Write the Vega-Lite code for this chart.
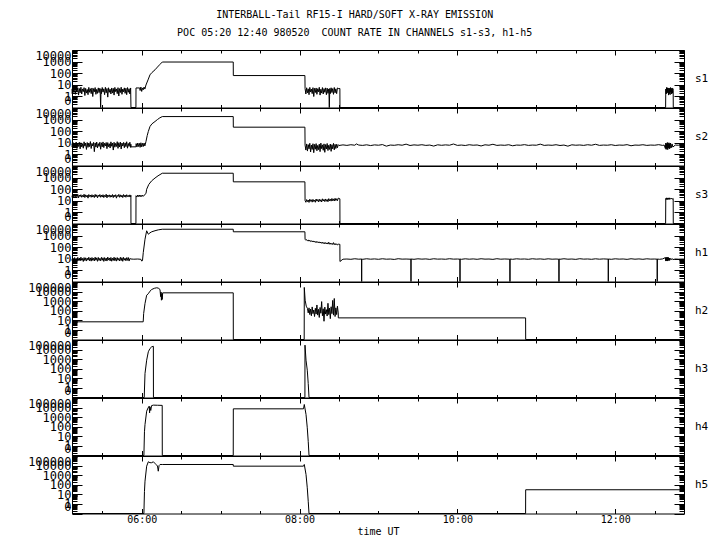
{
"$schema": "https://vega.github.io/schema/vega-lite/v6.json",
"background": "white",
"padding": {"left": 27, "top": 9, "right": 5, "bottom": 5},
"title": {"text": ["INTERBALL-Tail RF15-I HARD/SOFT X-RAY EMISSION", "POC 05:20 12:40 980520\u00a0 COUNT RATE IN CHANNELS s1-s3, h1-h5"], "font": "DejaVu Sans Mono", "fontSize": 10, "fontWeight": "normal", "lineHeight": 18, "anchor": "middle", "offset": 7, "dx": -13, "color": "black"},
"spacing": 0,
"bounds": "flush",
"datasets": {"d": [
{"c":"s1","t":5.117,"v":4.2},{"c":"s1","t":5.12,"v":1.6},{"c":"s1","t":5.13,"v":4.8},{"c":"s1","t":5.14,"v":2.0},{"c":"s1","t":5.15,"v":5.5},{"c":"s1","t":5.16,"v":1.4},{"c":"s1","t":5.17,"v":3.9},{"c":"s1","t":5.18,"v":2.2},{"c":"s1","t":5.19,"v":5.2},{"c":"s1","t":5.2,"v":1.2},{"c":"s1","t":5.21,"v":4.5},{"c":"s1","t":5.22,"v":1.9},{"c":"s1","t":5.23,"v":5.8},{"c":"s1","t":5.24,"v":1.5},{"c":"s1","t":5.25,"v":4.1},{"c":"s1","t":5.26,"v":2.4},{"c":"s1","t":5.27,"v":5.3},{"c":"s1","t":5.28,"v":1.1},{"c":"s1","t":5.29,"v":4.6},{"c":"s1","t":5.3,"v":1.8},{"c":"s1","t":5.31,"v":3.7},{"c":"s1","t":5.32,"v":1.3},{"c":"s1","t":5.33,"v":5.6},{"c":"s1","t":5.34,"v":2.1},{"c":"s1","t":5.35,"v":4.3},{"c":"s1","t":5.36,"v":1.6},{"c":"s1","t":5.37,"v":5.0},{"c":"s1","t":5.38,"v":0.9},{"c":"s1","t":5.39,"v":4.4},{"c":"s1","t":5.4,"v":2.3},{"c":"s1","t":5.41,"v":5.4},{"c":"s1","t":5.42,"v":1.4},{"c":"s1","t":5.43,"v":3.8},{"c":"s1","t":5.44,"v":1.7},{"c":"s1","t":5.45,"v":5.1},{"c":"s1","t":5.46,"v":2.0},{"c":"s1","t":5.47,"v":4.7},{"c":"s1","t":5.475,"v":1.5},{"c":"s1","t":5.48,"v":0.1},{"c":"s1","t":5.485,"v":4.0},{"c":"s1","t":5.49,"v":1.6},{"c":"s1","t":5.5,"v":5.5},{"c":"s1","t":5.51,"v":2.2},{"c":"s1","t":5.52,"v":4.2},{"c":"s1","t":5.53,"v":1.3},{"c":"s1","t":5.54,"v":5.7},{"c":"s1","t":5.55,"v":1.9},{"c":"s1","t":5.56,"v":4.5},{"c":"s1","t":5.57,"v":0.8},{"c":"s1","t":5.58,"v":5.2},{"c":"s1","t":5.59,"v":2.1},{"c":"s1","t":5.6,"v":3.9},{"c":"s1","t":5.61,"v":1.5},{"c":"s1","t":5.62,"v":5.0},{"c":"s1","t":5.63,"v":1.8},{"c":"s1","t":5.64,"v":4.6},{"c":"s1","t":5.65,"v":1.2},{"c":"s1","t":5.66,"v":5.6},{"c":"s1","t":5.67,"v":2.4},{"c":"s1","t":5.68,"v":4.1},{"c":"s1","t":5.69,"v":1.6},{"c":"s1","t":5.7,"v":5.3},{"c":"s1","t":5.71,"v":1.0},{"c":"s1","t":5.72,"v":4.4},{"c":"s1","t":5.73,"v":2.0},{"c":"s1","t":5.74,"v":5.8},{"c":"s1","t":5.75,"v":1.4},{"c":"s1","t":5.76,"v":4.0},{"c":"s1","t":5.77,"v":2.3},{"c":"s1","t":5.78,"v":5.1},{"c":"s1","t":5.79,"v":1.7},{"c":"s1","t":5.8,"v":4.7},{"c":"s1","t":5.81,"v":1.3},{"c":"s1","t":5.82,"v":5.4},{"c":"s1","t":5.83,"v":2.1},{"c":"s1","t":5.84,"v":4.3},{"c":"s1","t":5.85,"v":1.5},{"c":"s1","t":5.86,"v":5.0},{"c":"s1","t":5.864,"v":0.1},{"c":"s1","t":5.927,"v":0.1},{"c":"s1","t":5.928,"v":5},{"c":"s1","t":5.975,"v":5},{"c":"s1","t":5.98,"v":3},{"c":"s1","t":5.99,"v":6},{"c":"s1","t":6.0,"v":2.5},{"c":"s1","t":6.01,"v":5},{"c":"s1","t":6.02,"v":3.5},{"c":"s1","t":6.03,"v":6},{"c":"s1","t":6.04,"v":4},{"c":"s1","t":6.054,"v":9},{"c":"s1","t":6.08,"v":25},{"c":"s1","t":6.105,"v":69},{"c":"s1","t":6.13,"v":110},{"c":"s1","t":6.169,"v":190},{"c":"s1","t":6.2,"v":330},{"c":"s1","t":6.23,"v":550},{"c":"s1","t":6.261,"v":900},{"c":"s1","t":7.16,"v":900},{"c":"s1","t":7.161,"v":60},{"c":"s1","t":8.068,"v":60},{"c":"s1","t":8.07,"v":4.5},{"c":"s1","t":8.08,"v":1.5},{"c":"s1","t":8.09,"v":5.2},{"c":"s1","t":8.1,"v":1.9},{"c":"s1","t":8.11,"v":4.2},{"c":"s1","t":8.12,"v":1.3},{"c":"s1","t":8.13,"v":5.6},{"c":"s1","t":8.14,"v":2.2},{"c":"s1","t":8.15,"v":4.0},{"c":"s1","t":8.16,"v":1.6},{"c":"s1","t":8.17,"v":5.3},{"c":"s1","t":8.18,"v":0.9},{"c":"s1","t":8.19,"v":4.6},{"c":"s1","t":8.2,"v":2.0},{"c":"s1","t":8.21,"v":5.0},{"c":"s1","t":8.22,"v":1.4},{"c":"s1","t":8.23,"v":4.3},{"c":"s1","t":8.24,"v":2.3},{"c":"s1","t":8.25,"v":5.7},{"c":"s1","t":8.26,"v":1.2},{"c":"s1","t":8.27,"v":3.9},{"c":"s1","t":8.28,"v":1.8},{"c":"s1","t":8.29,"v":5.4},{"c":"s1","t":8.3,"v":1.5},{"c":"s1","t":8.31,"v":4.4},{"c":"s1","t":8.32,"v":2.1},{"c":"s1","t":8.33,"v":5.1},{"c":"s1","t":8.34,"v":1.3},{"c":"s1","t":8.35,"v":4.8},{"c":"s1","t":8.36,"v":1.7},{"c":"s1","t":8.37,"v":4.1},{"c":"s1","t":8.373,"v":1.5},{"c":"s1","t":8.377,"v":0.1},{"c":"s1","t":8.383,"v":4.5},{"c":"s1","t":8.39,"v":1.6},{"c":"s1","t":8.4,"v":5.2},{"c":"s1","t":8.41,"v":2.0},{"c":"s1","t":8.42,"v":4.4},{"c":"s1","t":8.43,"v":1.4},{"c":"s1","t":8.44,"v":5.5},{"c":"s1","t":8.45,"v":1.9},{"c":"s1","t":8.46,"v":4.2},{"c":"s1","t":8.47,"v":1.6},{"c":"s1","t":8.48,"v":5.0},{"c":"s1","t":8.49,"v":4.5},{"c":"s1","t":8.511,"v":4.5},{"c":"s1","t":8.512,"v":0.1},{"c":"s1","t":12.638,"v":0.1},{"c":"s1","t":12.64,"v":4},{"c":"s1","t":12.645,"v":1.5},{"c":"s1","t":12.65,"v":5.5},{"c":"s1","t":12.655,"v":1.8},{"c":"s1","t":12.66,"v":5.2},{"c":"s1","t":12.665,"v":2},{"c":"s1","t":12.67,"v":4.8},{"c":"s1","t":12.675,"v":1.2},{"c":"s1","t":12.68,"v":5},{"c":"s1","t":12.685,"v":1.6},{"c":"s1","t":12.69,"v":4.6},{"c":"s1","t":12.695,"v":1.3},{"c":"s1","t":12.7,"v":5.4},{"c":"s1","t":12.705,"v":2.2},{"c":"s1","t":12.71,"v":4.5},{"c":"s1","t":12.715,"v":1.5},{"c":"s1","t":12.72,"v":5},{"c":"s1","t":12.725,"v":1.8},{"c":"s1","t":12.73,"v":4.4},{"c":"s1","t":12.734,"v":3},{"c":"s1","t":12.735,"v":0.1},{"c":"s1","t":12.87,"v":0.1},

{"c":"s2","t":5.117,"v":8},{"c":"s2","t":5.12,"v":4},{"c":"s2","t":5.13,"v":10},{"c":"s2","t":5.14,"v":3.5},{"c":"s2","t":5.15,"v":9},{"c":"s2","t":5.16,"v":5},{"c":"s2","t":5.17,"v":11},{"c":"s2","t":5.18,"v":3},{"c":"s2","t":5.19,"v":8.5},{"c":"s2","t":5.2,"v":4.5},{"c":"s2","t":5.21,"v":10.5},{"c":"s2","t":5.22,"v":2.8},{"c":"s2","t":5.23,"v":9.5},{"c":"s2","t":5.24,"v":4.2},{"c":"s2","t":5.25,"v":7.5},{"c":"s2","t":5.26,"v":3.2},{"c":"s2","t":5.27,"v":11.5},{"c":"s2","t":5.28,"v":4.8},{"c":"s2","t":5.29,"v":8.8},{"c":"s2","t":5.3,"v":2.5},{"c":"s2","t":5.31,"v":10},{"c":"s2","t":5.32,"v":3.8},{"c":"s2","t":5.33,"v":9},{"c":"s2","t":5.34,"v":4.4},{"c":"s2","t":5.35,"v":12},{"c":"s2","t":5.36,"v":3},{"c":"s2","t":5.37,"v":8.2},{"c":"s2","t":5.38,"v":5},{"c":"s2","t":5.39,"v":10.2},{"c":"s2","t":5.4,"v":1.6},{"c":"s2","t":5.41,"v":9.2},{"c":"s2","t":5.42,"v":4},{"c":"s2","t":5.43,"v":11},{"c":"s2","t":5.44,"v":3.4},{"c":"s2","t":5.45,"v":8},{"c":"s2","t":5.46,"v":4.6},{"c":"s2","t":5.47,"v":10.5},{"c":"s2","t":5.48,"v":2.6},{"c":"s2","t":5.49,"v":9.4},{"c":"s2","t":5.5,"v":4.2},{"c":"s2","t":5.51,"v":11.2},{"c":"s2","t":5.52,"v":3.6},{"c":"s2","t":5.53,"v":8.6},{"c":"s2","t":5.54,"v":5},{"c":"s2","t":5.55,"v":10},{"c":"s2","t":5.56,"v":2.9},{"c":"s2","t":5.57,"v":9.8},{"c":"s2","t":5.58,"v":4.3},{"c":"s2","t":5.59,"v":7.8},{"c":"s2","t":5.6,"v":3.3},{"c":"s2","t":5.61,"v":11.4},{"c":"s2","t":5.62,"v":4.7},{"c":"s2","t":5.63,"v":9},{"c":"s2","t":5.64,"v":2.2},{"c":"s2","t":5.65,"v":10.4},{"c":"s2","t":5.66,"v":3.9},{"c":"s2","t":5.67,"v":8.4},{"c":"s2","t":5.68,"v":4.5},{"c":"s2","t":5.69,"v":11.8},{"c":"s2","t":5.7,"v":3.1},{"c":"s2","t":5.71,"v":9.6},{"c":"s2","t":5.72,"v":4.1},{"c":"s2","t":5.73,"v":10.8},{"c":"s2","t":5.74,"v":2.7},{"c":"s2","t":5.75,"v":8.9},{"c":"s2","t":5.76,"v":4.9},{"c":"s2","t":5.77,"v":10.1},{"c":"s2","t":5.78,"v":3.5},{"c":"s2","t":5.79,"v":9.3},{"c":"s2","t":5.8,"v":4.4},{"c":"s2","t":5.81,"v":11.6},{"c":"s2","t":5.82,"v":3.2},{"c":"s2","t":5.83,"v":8.3},{"c":"s2","t":5.84,"v":4.6},{"c":"s2","t":5.85,"v":10.6},{"c":"s2","t":5.86,"v":3.7},{"c":"s2","t":5.863,"v":7},{"c":"s2","t":5.864,"v":4.2},{"c":"s2","t":5.927,"v":4.2},{"c":"s2","t":5.93,"v":8},{"c":"s2","t":5.94,"v":4},{"c":"s2","t":5.95,"v":9},{"c":"s2","t":5.96,"v":4.5},{"c":"s2","t":5.97,"v":8.5},{"c":"s2","t":5.98,"v":3.8},{"c":"s2","t":5.99,"v":9.5},{"c":"s2","t":6.0,"v":4.2},{"c":"s2","t":6.01,"v":8.5},{"c":"s2","t":6.02,"v":4.5},{"c":"s2","t":6.03,"v":9},{"c":"s2","t":6.04,"v":5},{"c":"s2","t":6.054,"v":12},{"c":"s2","t":6.07,"v":40},{"c":"s2","t":6.084,"v":91},{"c":"s2","t":6.105,"v":245},{"c":"s2","t":6.13,"v":420},{"c":"s2","t":6.169,"v":670},{"c":"s2","t":6.2,"v":1000},{"c":"s2","t":6.23,"v":1400},{"c":"s2","t":6.261,"v":1800},{"c":"s2","t":7.16,"v":1800},{"c":"s2","t":7.161,"v":215},{"c":"s2","t":8.068,"v":215},{"c":"s2","t":8.07,"v":6},{"c":"s2","t":8.08,"v":2.2},{"c":"s2","t":8.09,"v":7.5},{"c":"s2","t":8.1,"v":1.8},{"c":"s2","t":8.11,"v":6.5},{"c":"s2","t":8.12,"v":2.8},{"c":"s2","t":8.13,"v":8.5},{"c":"s2","t":8.14,"v":1.5},{"c":"s2","t":8.15,"v":6},{"c":"s2","t":8.16,"v":2.5},{"c":"s2","t":8.17,"v":7.8},{"c":"s2","t":8.18,"v":1.3},{"c":"s2","t":8.19,"v":6.8},{"c":"s2","t":8.2,"v":2.6},{"c":"s2","t":8.21,"v":8},{"c":"s2","t":8.22,"v":1.9},{"c":"s2","t":8.23,"v":5.6},{"c":"s2","t":8.24,"v":2.4},{"c":"s2","t":8.25,"v":7.2},{"c":"s2","t":8.26,"v":1.6},{"c":"s2","t":8.27,"v":8.8},{"c":"s2","t":8.28,"v":2.9},{"c":"s2","t":8.29,"v":6.2},{"c":"s2","t":8.3,"v":2.1},{"c":"s2","t":8.31,"v":7.6},{"c":"s2","t":8.32,"v":1.4},{"c":"s2","t":8.33,"v":6.6},{"c":"s2","t":8.34,"v":2.7},{"c":"s2","t":8.35,"v":8.2},{"c":"s2","t":8.36,"v":2},{"c":"s2","t":8.37,"v":5.8},{"c":"s2","t":8.38,"v":2.5},{"c":"s2","t":8.39,"v":7.4},{"c":"s2","t":8.4,"v":1.7},{"c":"s2","t":8.41,"v":6.4},{"c":"s2","t":8.42,"v":2.8},{"c":"s2","t":8.43,"v":8.4},{"c":"s2","t":8.44,"v":2.3},{"c":"s2","t":8.45,"v":6.9},{"c":"s2","t":8.46,"v":3},{"c":"s2","t":8.47,"v":7},{"c":"s2","t":8.48,"v":3.5},{"c":"s2","t":8.49,"v":6.5},{"c":"s2","t":8.5,"v":5.5},{"c":"s2","t":8.55,"v":6.2},{"c":"s2","t":8.6,"v":5.6},{"c":"s2","t":8.65,"v":6.4},{"c":"s2","t":8.7,"v":5.8},{"c":"s2","t":8.72,"v":7.5},{"c":"s2","t":8.75,"v":6},{"c":"s2","t":8.8,"v":5.6},{"c":"s2","t":8.85,"v":6.3},{"c":"s2","t":8.9,"v":5.4},{"c":"s2","t":8.95,"v":6.2},{"c":"s2","t":9.0,"v":5.8},{"c":"s2","t":9.05,"v":6.6},{"c":"s2","t":9.1,"v":4.8},{"c":"s2","t":9.15,"v":6},{"c":"s2","t":9.2,"v":5.7},{"c":"s2","t":9.25,"v":6.4},{"c":"s2","t":9.3,"v":5.8},{"c":"s2","t":9.35,"v":7.2},{"c":"s2","t":9.4,"v":5.5},{"c":"s2","t":9.45,"v":6.2},{"c":"s2","t":9.5,"v":5.8},{"c":"s2","t":9.55,"v":6.4},{"c":"s2","t":9.6,"v":5.6},{"c":"s2","t":9.65,"v":6},{"c":"s2","t":9.7,"v":4.9},{"c":"s2","t":9.75,"v":6.3},{"c":"s2","t":9.8,"v":5.7},{"c":"s2","t":9.85,"v":6.2},{"c":"s2","t":9.9,"v":5.8},{"c":"s2","t":9.95,"v":7.4},{"c":"s2","t":10.0,"v":5.6},{"c":"s2","t":10.05,"v":6},{"c":"s2","t":10.1,"v":5.5},{"c":"s2","t":10.15,"v":6.4},{"c":"s2","t":10.2,"v":5.8},{"c":"s2","t":10.25,"v":6.1},{"c":"s2","t":10.3,"v":5},{"c":"s2","t":10.35,"v":6.3},{"c":"s2","t":10.4,"v":5.8},{"c":"s2","t":10.45,"v":7},{"c":"s2","t":10.5,"v":5.6},{"c":"s2","t":10.55,"v":6},{"c":"s2","t":10.6,"v":5.7},{"c":"s2","t":10.65,"v":6.4},{"c":"s2","t":10.7,"v":5.2},{"c":"s2","t":10.75,"v":6},{"c":"s2","t":10.8,"v":5.8},{"c":"s2","t":10.85,"v":6.5},{"c":"s2","t":10.9,"v":5.6},{"c":"s2","t":10.95,"v":6},{"c":"s2","t":11.0,"v":5.8},{"c":"s2","t":11.05,"v":7.2},{"c":"s2","t":11.1,"v":5.6},{"c":"s2","t":11.15,"v":6},{"c":"s2","t":11.2,"v":5.7},{"c":"s2","t":11.25,"v":6.4},{"c":"s2","t":11.3,"v":5.5},{"c":"s2","t":11.35,"v":6},{"c":"s2","t":11.4,"v":4.8},{"c":"s2","t":11.45,"v":6.3},{"c":"s2","t":11.5,"v":5.8},{"c":"s2","t":11.55,"v":6.1},{"c":"s2","t":11.6,"v":5.6},{"c":"s2","t":11.65,"v":6.4},{"c":"s2","t":11.7,"v":5.8},{"c":"s2","t":11.75,"v":7},{"c":"s2","t":11.8,"v":5.6},{"c":"s2","t":11.85,"v":6},{"c":"s2","t":11.9,"v":5.8},{"c":"s2","t":11.95,"v":6.4},{"c":"s2","t":12.0,"v":5.5},{"c":"s2","t":12.05,"v":6},{"c":"s2","t":12.1,"v":5.8},{"c":"s2","t":12.15,"v":6.5},{"c":"s2","t":12.2,"v":5.2},{"c":"s2","t":12.25,"v":6},{"c":"s2","t":12.3,"v":5.8},{"c":"s2","t":12.35,"v":6.4},{"c":"s2","t":12.4,"v":5.6},{"c":"s2","t":12.45,"v":6},{"c":"s2","t":12.5,"v":5.8},{"c":"s2","t":12.55,"v":6.5},{"c":"s2","t":12.6,"v":5.6},{"c":"s2","t":12.62,"v":6},{"c":"s2","t":12.635,"v":3},{"c":"s2","t":12.64,"v":9},{"c":"s2","t":12.645,"v":2.5},{"c":"s2","t":12.65,"v":8},{"c":"s2","t":12.655,"v":3},{"c":"s2","t":12.66,"v":10},{"c":"s2","t":12.665,"v":2.4},{"c":"s2","t":12.67,"v":8.5},{"c":"s2","t":12.675,"v":3.5},{"c":"s2","t":12.68,"v":9.5},{"c":"s2","t":12.685,"v":2.8},{"c":"s2","t":12.69,"v":8},{"c":"s2","t":12.695,"v":3.2},{"c":"s2","t":12.7,"v":9},{"c":"s2","t":12.71,"v":3.5},{"c":"s2","t":12.72,"v":7.5},{"c":"s2","t":12.73,"v":4},{"c":"s2","t":12.76,"v":6},{"c":"s2","t":12.8,"v":5.8},{"c":"s2","t":12.85,"v":6.2},{"c":"s2","t":12.87,"v":6},

{"c":"s3","t":5.117,"v":26},{"c":"s3","t":5.12,"v":19},{"c":"s3","t":5.13,"v":31},{"c":"s3","t":5.14,"v":20},{"c":"s3","t":5.15,"v":33},{"c":"s3","t":5.16,"v":18},{"c":"s3","t":5.17,"v":29},{"c":"s3","t":5.18,"v":21},{"c":"s3","t":5.19,"v":34},{"c":"s3","t":5.2,"v":17},{"c":"s3","t":5.21,"v":30},{"c":"s3","t":5.22,"v":22},{"c":"s3","t":5.23,"v":32},{"c":"s3","t":5.24,"v":19},{"c":"s3","t":5.25,"v":28},{"c":"s3","t":5.26,"v":20},{"c":"s3","t":5.27,"v":35},{"c":"s3","t":5.28,"v":18},{"c":"s3","t":5.29,"v":31},{"c":"s3","t":5.3,"v":21},{"c":"s3","t":5.31,"v":29},{"c":"s3","t":5.32,"v":16},{"c":"s3","t":5.33,"v":33},{"c":"s3","t":5.34,"v":22},{"c":"s3","t":5.35,"v":30},{"c":"s3","t":5.36,"v":19},{"c":"s3","t":5.37,"v":32},{"c":"s3","t":5.38,"v":20},{"c":"s3","t":5.39,"v":28},{"c":"s3","t":5.4,"v":18},{"c":"s3","t":5.41,"v":34},{"c":"s3","t":5.42,"v":21},{"c":"s3","t":5.43,"v":31},{"c":"s3","t":5.44,"v":17},{"c":"s3","t":5.45,"v":29},{"c":"s3","t":5.46,"v":22},{"c":"s3","t":5.47,"v":33},{"c":"s3","t":5.48,"v":19},{"c":"s3","t":5.49,"v":30},{"c":"s3","t":5.5,"v":20},{"c":"s3","t":5.51,"v":32},{"c":"s3","t":5.52,"v":18},{"c":"s3","t":5.53,"v":28},{"c":"s3","t":5.54,"v":21},{"c":"s3","t":5.55,"v":35},{"c":"s3","t":5.56,"v":17},{"c":"s3","t":5.57,"v":30},{"c":"s3","t":5.58,"v":22},{"c":"s3","t":5.59,"v":31},{"c":"s3","t":5.6,"v":19},{"c":"s3","t":5.61,"v":29},{"c":"s3","t":5.62,"v":20},{"c":"s3","t":5.63,"v":33},{"c":"s3","t":5.64,"v":18},{"c":"s3","t":5.65,"v":30},{"c":"s3","t":5.66,"v":21},{"c":"s3","t":5.67,"v":32},{"c":"s3","t":5.68,"v":16},{"c":"s3","t":5.69,"v":28},{"c":"s3","t":5.7,"v":22},{"c":"s3","t":5.71,"v":34},{"c":"s3","t":5.72,"v":19},{"c":"s3","t":5.73,"v":31},{"c":"s3","t":5.74,"v":20},{"c":"s3","t":5.75,"v":29},{"c":"s3","t":5.76,"v":18},{"c":"s3","t":5.77,"v":33},{"c":"s3","t":5.78,"v":21},{"c":"s3","t":5.79,"v":30},{"c":"s3","t":5.8,"v":19},{"c":"s3","t":5.81,"v":32},{"c":"s3","t":5.82,"v":22},{"c":"s3","t":5.83,"v":28},{"c":"s3","t":5.84,"v":20},{"c":"s3","t":5.85,"v":31},{"c":"s3","t":5.86,"v":21},{"c":"s3","t":5.863,"v":28},{"c":"s3","t":5.864,"v":0.1},{"c":"s3","t":5.927,"v":0.1},{"c":"s3","t":5.928,"v":26},{"c":"s3","t":5.94,"v":20},{"c":"s3","t":5.95,"v":30},{"c":"s3","t":5.96,"v":22},{"c":"s3","t":5.97,"v":30},{"c":"s3","t":5.98,"v":21},{"c":"s3","t":5.99,"v":29},{"c":"s3","t":6.0,"v":22},{"c":"s3","t":6.01,"v":30},{"c":"s3","t":6.02,"v":23},{"c":"s3","t":6.03,"v":28},{"c":"s3","t":6.054,"v":40},{"c":"s3","t":6.063,"v":95},{"c":"s3","t":6.09,"v":250},{"c":"s3","t":6.127,"v":520},{"c":"s3","t":6.169,"v":900},{"c":"s3","t":6.207,"v":1400},{"c":"s3","t":6.261,"v":2350},{"c":"s3","t":7.16,"v":2350},{"c":"s3","t":7.161,"v":420},{"c":"s3","t":8.068,"v":420},{"c":"s3","t":8.07,"v":10},{"c":"s3","t":8.08,"v":7},{"c":"s3","t":8.09,"v":12},{"c":"s3","t":8.1,"v":8},{"c":"s3","t":8.11,"v":11},{"c":"s3","t":8.12,"v":6.8},{"c":"s3","t":8.13,"v":13},{"c":"s3","t":8.14,"v":8.5},{"c":"s3","t":8.15,"v":11.5},{"c":"s3","t":8.16,"v":7.2},{"c":"s3","t":8.17,"v":12.5},{"c":"s3","t":8.18,"v":8.2},{"c":"s3","t":8.19,"v":11},{"c":"s3","t":8.2,"v":7},{"c":"s3","t":8.21,"v":13.5},{"c":"s3","t":8.22,"v":8.8},{"c":"s3","t":8.23,"v":12},{"c":"s3","t":8.24,"v":7.6},{"c":"s3","t":8.25,"v":13},{"c":"s3","t":8.26,"v":8.4},{"c":"s3","t":8.27,"v":11.8},{"c":"s3","t":8.28,"v":7.4},{"c":"s3","t":8.29,"v":14},{"c":"s3","t":8.3,"v":9},{"c":"s3","t":8.31,"v":12.4},{"c":"s3","t":8.32,"v":8},{"c":"s3","t":8.33,"v":13.6},{"c":"s3","t":8.34,"v":8.6},{"c":"s3","t":8.35,"v":12.2},{"c":"s3","t":8.36,"v":7.8},{"c":"s3","t":8.37,"v":14.5},{"c":"s3","t":8.38,"v":9.2},{"c":"s3","t":8.39,"v":13},{"c":"s3","t":8.4,"v":8.8},{"c":"s3","t":8.41,"v":15},{"c":"s3","t":8.42,"v":9.5},{"c":"s3","t":8.43,"v":13.8},{"c":"s3","t":8.44,"v":9},{"c":"s3","t":8.45,"v":15.5},{"c":"s3","t":8.46,"v":10},{"c":"s3","t":8.47,"v":14.2},{"c":"s3","t":8.48,"v":9.6},{"c":"s3","t":8.49,"v":16},{"c":"s3","t":8.511,"v":14},{"c":"s3","t":8.512,"v":0.1},{"c":"s3","t":12.638,"v":0.1},{"c":"s3","t":12.64,"v":15},{"c":"s3","t":12.645,"v":12},{"c":"s3","t":12.65,"v":17},{"c":"s3","t":12.655,"v":13},{"c":"s3","t":12.66,"v":16},{"c":"s3","t":12.665,"v":12},{"c":"s3","t":12.67,"v":17},{"c":"s3","t":12.675,"v":13},{"c":"s3","t":12.68,"v":16},{"c":"s3","t":12.685,"v":12.5},{"c":"s3","t":12.69,"v":17},{"c":"s3","t":12.7,"v":13},{"c":"s3","t":12.71,"v":16},{"c":"s3","t":12.72,"v":13},{"c":"s3","t":12.734,"v":15},{"c":"s3","t":12.735,"v":0.1},{"c":"s3","t":12.87,"v":0.1},

{"c":"h1","t":5.117,"v":9},{"c":"h1","t":5.12,"v":6.5},{"c":"h1","t":5.13,"v":11},{"c":"h1","t":5.14,"v":6},{"c":"h1","t":5.15,"v":12},{"c":"h1","t":5.16,"v":7},{"c":"h1","t":5.17,"v":10.5},{"c":"h1","t":5.18,"v":5.8},{"c":"h1","t":5.19,"v":12.5},{"c":"h1","t":5.2,"v":6.8},{"c":"h1","t":5.21,"v":11},{"c":"h1","t":5.22,"v":6.2},{"c":"h1","t":5.23,"v":13},{"c":"h1","t":5.24,"v":7},{"c":"h1","t":5.25,"v":10.2},{"c":"h1","t":5.26,"v":5.5},{"c":"h1","t":5.27,"v":12},{"c":"h1","t":5.28,"v":6.6},{"c":"h1","t":5.29,"v":11.5},{"c":"h1","t":5.3,"v":6},{"c":"h1","t":5.31,"v":10.8},{"c":"h1","t":5.32,"v":7.2},{"c":"h1","t":5.33,"v":12.8},{"c":"h1","t":5.34,"v":6.4},{"c":"h1","t":5.35,"v":11.2},{"c":"h1","t":5.36,"v":5.9},{"c":"h1","t":5.37,"v":12.2},{"c":"h1","t":5.38,"v":6.9},{"c":"h1","t":5.39,"v":10.6},{"c":"h1","t":5.4,"v":6.1},{"c":"h1","t":5.41,"v":13},{"c":"h1","t":5.42,"v":7.1},{"c":"h1","t":5.43,"v":11.4},{"c":"h1","t":5.44,"v":5.7},{"c":"h1","t":5.45,"v":12.4},{"c":"h1","t":5.46,"v":6.7},{"c":"h1","t":5.47,"v":10.4},{"c":"h1","t":5.48,"v":6.3},{"c":"h1","t":5.49,"v":12.6},{"c":"h1","t":5.5,"v":7},{"c":"h1","t":5.51,"v":11.6},{"c":"h1","t":5.52,"v":5.6},{"c":"h1","t":5.53,"v":12},{"c":"h1","t":5.54,"v":6.5},{"c":"h1","t":5.55,"v":10.9},{"c":"h1","t":5.56,"v":6},{"c":"h1","t":5.57,"v":13.2},{"c":"h1","t":5.58,"v":7.3},{"c":"h1","t":5.59,"v":11.1},{"c":"h1","t":5.6,"v":6.2},{"c":"h1","t":5.61,"v":12.3},{"c":"h1","t":5.62,"v":5.8},{"c":"h1","t":5.63,"v":10.7},{"c":"h1","t":5.64,"v":6.8},{"c":"h1","t":5.65,"v":12.9},{"c":"h1","t":5.66,"v":6.4},{"c":"h1","t":5.67,"v":11.3},{"c":"h1","t":5.68,"v":5.9},{"c":"h1","t":5.69,"v":12.1},{"c":"h1","t":5.7,"v":7},{"c":"h1","t":5.71,"v":10.3},{"c":"h1","t":5.72,"v":6.1},{"c":"h1","t":5.73,"v":12.7},{"c":"h1","t":5.74,"v":6.6},{"c":"h1","t":5.75,"v":11.7},{"c":"h1","t":5.76,"v":5.7},{"c":"h1","t":5.77,"v":12.5},{"c":"h1","t":5.78,"v":7.2},{"c":"h1","t":5.79,"v":10.5},{"c":"h1","t":5.8,"v":6.3},{"c":"h1","t":5.81,"v":11.9},{"c":"h1","t":5.82,"v":6.9},{"c":"h1","t":5.83,"v":12.2},{"c":"h1","t":5.84,"v":6},{"c":"h1","t":5.85,"v":10},{"c":"h1","t":5.864,"v":9},{"c":"h1","t":5.9,"v":8.7},{"c":"h1","t":5.95,"v":9},{"c":"h1","t":5.99,"v":8.5},{"c":"h1","t":6.0,"v":6},{"c":"h1","t":6.01,"v":6.5},{"c":"h1","t":6.02,"v":33},{"c":"h1","t":6.042,"v":475},{"c":"h1","t":6.063,"v":2570},{"c":"h1","t":6.084,"v":1290},{"c":"h1","t":6.105,"v":1700},{"c":"h1","t":6.127,"v":2100},{"c":"h1","t":6.169,"v":2600},{"c":"h1","t":6.21,"v":3100},{"c":"h1","t":6.261,"v":3500},{"c":"h1","t":7.16,"v":3500},{"c":"h1","t":7.161,"v":2100},{"c":"h1","t":8.068,"v":2100},{"c":"h1","t":8.07,"v":475},{"c":"h1","t":8.08,"v":380},{"c":"h1","t":8.09,"v":440},{"c":"h1","t":8.1,"v":350},{"c":"h1","t":8.11,"v":400},{"c":"h1","t":8.12,"v":320},{"c":"h1","t":8.13,"v":390},{"c":"h1","t":8.14,"v":300},{"c":"h1","t":8.15,"v":350},{"c":"h1","t":8.16,"v":280},{"c":"h1","t":8.17,"v":340},{"c":"h1","t":8.18,"v":270},{"c":"h1","t":8.19,"v":320},{"c":"h1","t":8.2,"v":250},{"c":"h1","t":8.21,"v":310},{"c":"h1","t":8.22,"v":240},{"c":"h1","t":8.23,"v":290},{"c":"h1","t":8.24,"v":230},{"c":"h1","t":8.25,"v":280},{"c":"h1","t":8.26,"v":220},{"c":"h1","t":8.27,"v":270},{"c":"h1","t":8.28,"v":210},{"c":"h1","t":8.29,"v":260},{"c":"h1","t":8.3,"v":200},{"c":"h1","t":8.31,"v":250},{"c":"h1","t":8.32,"v":190},{"c":"h1","t":8.33,"v":240},{"c":"h1","t":8.34,"v":185},{"c":"h1","t":8.35,"v":230},{"c":"h1","t":8.36,"v":180},{"c":"h1","t":8.37,"v":260},{"c":"h1","t":8.38,"v":175},{"c":"h1","t":8.39,"v":220},{"c":"h1","t":8.4,"v":170},{"c":"h1","t":8.41,"v":210},{"c":"h1","t":8.42,"v":165},{"c":"h1","t":8.43,"v":240},{"c":"h1","t":8.44,"v":160},{"c":"h1","t":8.45,"v":200},{"c":"h1","t":8.46,"v":155},{"c":"h1","t":8.47,"v":190},{"c":"h1","t":8.48,"v":150},{"c":"h1","t":8.49,"v":175},{"c":"h1","t":8.511,"v":170},{"c":"h1","t":8.512,"v":5.5},{"c":"h1","t":8.55,"v":8.7},{"c":"h1","t":8.6,"v":9},{"c":"h1","t":8.65,"v":8.5},{"c":"h1","t":8.7,"v":9.5},{"c":"h1","t":8.75,"v":8.7},{"c":"h1","t":8.786,"v":9},{"c":"h1","t":8.787,"v":0.1},{"c":"h1","t":8.788,"v":9},{"c":"h1","t":8.8,"v":8.5},{"c":"h1","t":8.85,"v":9.5},{"c":"h1","t":8.9,"v":8.7},{"c":"h1","t":8.95,"v":9.2},{"c":"h1","t":9.0,"v":8.5},{"c":"h1","t":9.05,"v":9.5},{"c":"h1","t":9.1,"v":8.7},{"c":"h1","t":9.15,"v":9},{"c":"h1","t":9.2,"v":8.3},{"c":"h1","t":9.25,"v":9.6},{"c":"h1","t":9.3,"v":8.8},{"c":"h1","t":9.35,"v":9},{"c":"h1","t":9.4,"v":8.7},{"c":"h1","t":9.411,"v":9},{"c":"h1","t":9.412,"v":0.1},{"c":"h1","t":9.413,"v":9},{"c":"h1","t":9.45,"v":8.5},{"c":"h1","t":9.5,"v":9.4},{"c":"h1","t":9.55,"v":8.8},{"c":"h1","t":9.6,"v":9.2},{"c":"h1","t":9.65,"v":8.4},{"c":"h1","t":9.7,"v":9.5},{"c":"h1","t":9.75,"v":8.8},{"c":"h1","t":9.8,"v":9},{"c":"h1","t":9.85,"v":8.6},{"c":"h1","t":9.9,"v":9.6},{"c":"h1","t":9.95,"v":8.8},{"c":"h1","t":10.0,"v":9},{"c":"h1","t":10.032,"v":8.7},{"c":"h1","t":10.033,"v":0.1},{"c":"h1","t":10.034,"v":9},{"c":"h1","t":10.05,"v":8.5},{"c":"h1","t":10.1,"v":9.4},{"c":"h1","t":10.15,"v":8.7},{"c":"h1","t":10.2,"v":9.2},{"c":"h1","t":10.25,"v":8.5},{"c":"h1","t":10.3,"v":9.5},{"c":"h1","t":10.35,"v":8.8},{"c":"h1","t":10.4,"v":9},{"c":"h1","t":10.45,"v":8.4},{"c":"h1","t":10.5,"v":9.6},{"c":"h1","t":10.55,"v":8.7},{"c":"h1","t":10.6,"v":9.1},{"c":"h1","t":10.664,"v":8.7},{"c":"h1","t":10.665,"v":0.1},{"c":"h1","t":10.667,"v":0.1},{"c":"h1","t":10.668,"v":9},{"c":"h1","t":10.7,"v":8.5},{"c":"h1","t":10.75,"v":9.4},{"c":"h1","t":10.8,"v":8.8},{"c":"h1","t":10.85,"v":9.1},{"c":"h1","t":10.9,"v":8.5},{"c":"h1","t":10.95,"v":9.5},{"c":"h1","t":11.0,"v":8.8},{"c":"h1","t":11.05,"v":9.2},{"c":"h1","t":11.1,"v":8.5},{"c":"h1","t":11.15,"v":9.4},{"c":"h1","t":11.2,"v":8.7},{"c":"h1","t":11.25,"v":9},{"c":"h1","t":11.285,"v":8.7},{"c":"h1","t":11.286,"v":0.1},{"c":"h1","t":11.288,"v":0.1},{"c":"h1","t":11.289,"v":9},{"c":"h1","t":11.3,"v":8.6},{"c":"h1","t":11.35,"v":9.5},{"c":"h1","t":11.4,"v":8.7},{"c":"h1","t":11.45,"v":9},{"c":"h1","t":11.5,"v":8.4},{"c":"h1","t":11.55,"v":9.6},{"c":"h1","t":11.6,"v":8.8},{"c":"h1","t":11.65,"v":9.1},{"c":"h1","t":11.7,"v":8.5},{"c":"h1","t":11.75,"v":9.4},{"c":"h1","t":11.8,"v":8.7},{"c":"h1","t":11.85,"v":9.2},{"c":"h1","t":11.911,"v":8.8},{"c":"h1","t":11.912,"v":0.1},{"c":"h1","t":11.913,"v":9},{"c":"h1","t":11.95,"v":8.5},{"c":"h1","t":12.0,"v":9.4},{"c":"h1","t":12.05,"v":8.8},{"c":"h1","t":12.1,"v":9.1},{"c":"h1","t":12.15,"v":8.4},{"c":"h1","t":12.2,"v":9.5},{"c":"h1","t":12.25,"v":8.7},{"c":"h1","t":12.3,"v":9.2},{"c":"h1","t":12.35,"v":8.5},{"c":"h1","t":12.4,"v":9.4},{"c":"h1","t":12.45,"v":8.8},{"c":"h1","t":12.5,"v":9},{"c":"h1","t":12.531,"v":8.7},{"c":"h1","t":12.532,"v":0.1},{"c":"h1","t":12.533,"v":9},{"c":"h1","t":12.56,"v":8.5},{"c":"h1","t":12.6,"v":9.2},{"c":"h1","t":12.635,"v":12},{"c":"h1","t":12.64,"v":6},{"c":"h1","t":12.645,"v":13},{"c":"h1","t":12.65,"v":6.5},{"c":"h1","t":12.655,"v":12},{"c":"h1","t":12.66,"v":6},{"c":"h1","t":12.665,"v":13},{"c":"h1","t":12.67,"v":7},{"c":"h1","t":12.675,"v":12},{"c":"h1","t":12.68,"v":6.5},{"c":"h1","t":12.685,"v":11},{"c":"h1","t":12.69,"v":7},{"c":"h1","t":12.7,"v":10},{"c":"h1","t":12.71,"v":8},{"c":"h1","t":12.72,"v":10},{"c":"h1","t":12.73,"v":8},{"c":"h1","t":12.76,"v":9},{"c":"h1","t":12.8,"v":8.7},{"c":"h1","t":12.87,"v":9},

{"c":"h2","t":5.117,"v":7},{"c":"h2","t":6.019,"v":7},{"c":"h2","t":6.025,"v":52},{"c":"h2","t":6.042,"v":575},{"c":"h2","t":6.063,"v":4200},{"c":"h2","t":6.084,"v":6000},{"c":"h2","t":6.105,"v":11000},{"c":"h2","t":6.127,"v":16500},{"c":"h2","t":6.16,"v":22000},{"c":"h2","t":6.19,"v":25000},{"c":"h2","t":6.21,"v":23000},{"c":"h2","t":6.232,"v":16500},{"c":"h2","t":6.24,"v":3000},{"c":"h2","t":6.245,"v":9000},{"c":"h2","t":6.25,"v":1260},{"c":"h2","t":6.255,"v":6000},{"c":"h2","t":6.26,"v":1500},{"c":"h2","t":6.266,"v":7400},{"c":"h2","t":7.16,"v":7400},{"c":"h2","t":7.161,"v":0.1},{"c":"h2","t":8.059,"v":0.1},{"c":"h2","t":8.06,"v":27000},{"c":"h2","t":8.071,"v":1260},{"c":"h2","t":8.085,"v":300},{"c":"h2","t":8.1,"v":175},{"c":"h2","t":8.11,"v":60},{"c":"h2","t":8.12,"v":200},{"c":"h2","t":8.13,"v":40},{"c":"h2","t":8.14,"v":150},{"c":"h2","t":8.15,"v":30},{"c":"h2","t":8.16,"v":250},{"c":"h2","t":8.17,"v":50},{"c":"h2","t":8.18,"v":120},{"c":"h2","t":8.19,"v":25},{"c":"h2","t":8.2,"v":180},{"c":"h2","t":8.21,"v":45},{"c":"h2","t":8.22,"v":400},{"c":"h2","t":8.23,"v":35},{"c":"h2","t":8.24,"v":140},{"c":"h2","t":8.25,"v":20},{"c":"h2","t":8.26,"v":220},{"c":"h2","t":8.27,"v":55},{"c":"h2","t":8.28,"v":900},{"c":"h2","t":8.29,"v":30},{"c":"h2","t":8.3,"v":160},{"c":"h2","t":8.31,"v":8},{"c":"h2","t":8.32,"v":240},{"c":"h2","t":8.33,"v":45},{"c":"h2","t":8.34,"v":130},{"c":"h2","t":8.35,"v":28},{"c":"h2","t":8.36,"v":600},{"c":"h2","t":8.37,"v":40},{"c":"h2","t":8.38,"v":190},{"c":"h2","t":8.39,"v":15},{"c":"h2","t":8.4,"v":260},{"c":"h2","t":8.41,"v":50},{"c":"h2","t":8.42,"v":1200},{"c":"h2","t":8.43,"v":35},{"c":"h2","t":8.44,"v":1900},{"c":"h2","t":8.45,"v":25},{"c":"h2","t":8.46,"v":200},{"c":"h2","t":8.47,"v":40},{"c":"h2","t":8.48,"v":300},{"c":"h2","t":8.49,"v":60},{"c":"h2","t":8.491,"v":18},{"c":"h2","t":10.864,"v":18},{"c":"h2","t":10.865,"v":0.1},{"c":"h2","t":12.87,"v":0.1},

{"c":"h3","t":5.117,"v":0.1},{"c":"h3","t":6.032,"v":0.1},{"c":"h3","t":6.042,"v":32},{"c":"h3","t":6.063,"v":780},{"c":"h3","t":6.084,"v":5900},{"c":"h3","t":6.105,"v":13000},{"c":"h3","t":6.127,"v":19500},{"c":"h3","t":6.148,"v":22000},{"c":"h3","t":6.149,"v":0.1},{"c":"h3","t":8.068,"v":0.1},{"c":"h3","t":8.069,"v":29000},{"c":"h3","t":8.082,"v":780},{"c":"h3","t":8.098,"v":71},{"c":"h3","t":8.11,"v":2.9},{"c":"h3","t":8.12,"v":0.1},{"c":"h3","t":12.87,"v":0.1},

{"c":"h4","t":5.117,"v":0.1},{"c":"h4","t":6.028,"v":0.1},{"c":"h4","t":6.035,"v":30},{"c":"h4","t":6.042,"v":170},{"c":"h4","t":6.063,"v":4200},{"c":"h4","t":6.08,"v":9000},{"c":"h4","t":6.095,"v":14000},{"c":"h4","t":6.1,"v":2800},{"c":"h4","t":6.105,"v":12000},{"c":"h4","t":6.115,"v":5000},{"c":"h4","t":6.125,"v":16000},{"c":"h4","t":6.148,"v":18000},{"c":"h4","t":6.2,"v":17500},{"c":"h4","t":6.26,"v":17000},{"c":"h4","t":6.261,"v":0.1},{"c":"h4","t":7.16,"v":0.1},{"c":"h4","t":7.161,"v":7400},{"c":"h4","t":8.05,"v":7400},{"c":"h4","t":8.06,"v":21000},{"c":"h4","t":8.082,"v":1900},{"c":"h4","t":8.098,"v":78},{"c":"h4","t":8.11,"v":3},{"c":"h4","t":8.12,"v":0.1},{"c":"h4","t":12.87,"v":0.1},

{"c":"h5","t":5.117,"v":0.1},{"c":"h5","t":6.028,"v":0.1},{"c":"h5","t":6.035,"v":20},{"c":"h5","t":6.042,"v":236},{"c":"h5","t":6.063,"v":8700},{"c":"h5","t":6.084,"v":25000},{"c":"h5","t":6.105,"v":20000},{"c":"h5","t":6.127,"v":20000},{"c":"h5","t":6.148,"v":25000},{"c":"h5","t":6.165,"v":18000},{"c":"h5","t":6.182,"v":13000},{"c":"h5","t":6.2,"v":9000},{"c":"h5","t":6.21,"v":2600},{"c":"h5","t":6.22,"v":10000},{"c":"h5","t":6.232,"v":13000},{"c":"h5","t":6.261,"v":13000},{"c":"h5","t":7.16,"v":13000},{"c":"h5","t":7.161,"v":8700},{"c":"h5","t":8.05,"v":8700},{"c":"h5","t":8.06,"v":13000},{"c":"h5","t":8.082,"v":1170},{"c":"h5","t":8.098,"v":48},{"c":"h5","t":8.11,"v":1.9},{"c":"h5","t":8.12,"v":0.1},{"c":"h5","t":10.864,"v":0.1},{"c":"h5","t":10.865,"v":30},{"c":"h5","t":12.87,"v":30}
]},
"vconcat": [
{"width": 612, "height": 57.5, "data": {"name": "d"}, "transform": [{"filter": "datum.c == 's1'"}],
 "layer": [
  {"mark": {"type": "line", "color": "black", "strokeWidth": 1},
   "encoding": {
    "x": {"field": "t", "type": "quantitative", "scale": {"domain": [5.117, 12.871], "nice": false, "zero": false}, "axis": {"orient": "bottom", "values": [5.5,6,6.5,7,7.5,8,8.5,9,9.5,10,10.5,11,11.5,12,12.5], "labels": false, "title": null, "tickSize": {"condition": {"test": "datum.value % 2 == 0", "value": -5}, "value": -3}}},
    "y": {"field": "v", "type": "quantitative", "scale": {"type": "log", "domain": [0.1, 10000], "nice": false}, "axis": {"orient": "left", "values": [0.1,0.2,0.3,0.4,0.5,0.6,0.7,0.8,0.9,1,2,3,4,5,6,7,8,9,10,20,30,40,50,60,70,80,90,100,200,300,400,500,600,700,800,900,1000,2000,3000,4000,5000,6000,7000,8000,9000,10000], "format": "d", "labelExpr": "indexof([0.1,1,10,100,1000,10000,100000], datum.value) >= 0 ? datum.label : ''", "title": null, "tickSize": {"condition": {"test": "indexof([0.1,1,10,100,1000,10000,100000], datum.value) >= 0", "value": -10}, "value": -5}}}
   }},
  {"mark": {"type": "line", "opacity": 0},
   "encoding": {
    "x": {"field": "t", "type": "quantitative", "axis": {"orient": "top", "values": [5.5,6,6.5,7,7.5,8,8.5,9,9.5,10,10.5,11,11.5,12,12.5], "labels": false, "title": null, "tickSize": {"condition": {"test": "datum.value % 2 == 0", "value": -5}, "value": -3}}},
    "y": {"field": "v", "type": "quantitative", "axis": {"orient": "right", "values": [0.1,0.2,0.3,0.4,0.5,0.6,0.7,0.8,0.9,1,2,3,4,5,6,7,8,9,10,20,30,40,50,60,70,80,90,100,200,300,400,500,600,700,800,900,1000,2000,3000,4000,5000,6000,7000,8000,9000,10000], "labels": false, "title": "s1", "tickSize": {"condition": {"test": "indexof([0.1,1,10,100,1000,10000,100000], datum.value) >= 0", "value": -10}, "value": -5}}}
   }}
 ],
 "resolve": {"axis": {"x": "independent", "y": "independent"}}
},
{"width": 612, "height": 57.5, "data": {"name": "d"}, "transform": [{"filter": "datum.c == 's2'"}],
 "layer": [
  {"mark": {"type": "line", "color": "black", "strokeWidth": 1},
   "encoding": {
    "x": {"field": "t", "type": "quantitative", "scale": {"domain": [5.117, 12.871], "nice": false, "zero": false}, "axis": {"orient": "bottom", "values": [5.5,6,6.5,7,7.5,8,8.5,9,9.5,10,10.5,11,11.5,12,12.5], "labels": false, "title": null, "tickSize": {"condition": {"test": "datum.value % 2 == 0", "value": -5}, "value": -3}}},
    "y": {"field": "v", "type": "quantitative", "scale": {"type": "log", "domain": [0.1, 10000], "nice": false}, "axis": {"orient": "left", "values": [0.1,0.2,0.3,0.4,0.5,0.6,0.7,0.8,0.9,1,2,3,4,5,6,7,8,9,10,20,30,40,50,60,70,80,90,100,200,300,400,500,600,700,800,900,1000,2000,3000,4000,5000,6000,7000,8000,9000,10000], "format": "d", "labelExpr": "indexof([0.1,1,10,100,1000,10000,100000], datum.value) >= 0 ? datum.label : ''", "title": null, "tickSize": {"condition": {"test": "indexof([0.1,1,10,100,1000,10000,100000], datum.value) >= 0", "value": -10}, "value": -5}}}
   }},
  {"mark": {"type": "line", "opacity": 0},
   "encoding": {
    "x": {"field": "t", "type": "quantitative", "axis": {"orient": "top", "values": [5.5,6,6.5,7,7.5,8,8.5,9,9.5,10,10.5,11,11.5,12,12.5], "labels": false, "title": null, "tickSize": {"condition": {"test": "datum.value % 2 == 0", "value": -5}, "value": -3}}},
    "y": {"field": "v", "type": "quantitative", "axis": {"orient": "right", "values": [0.1,0.2,0.3,0.4,0.5,0.6,0.7,0.8,0.9,1,2,3,4,5,6,7,8,9,10,20,30,40,50,60,70,80,90,100,200,300,400,500,600,700,800,900,1000,2000,3000,4000,5000,6000,7000,8000,9000,10000], "labels": false, "title": "s2", "tickSize": {"condition": {"test": "indexof([0.1,1,10,100,1000,10000,100000], datum.value) >= 0", "value": -10}, "value": -5}}}
   }}
 ],
 "resolve": {"axis": {"x": "independent", "y": "independent"}}
},
{"width": 612, "height": 57.5, "data": {"name": "d"}, "transform": [{"filter": "datum.c == 's3'"}],
 "layer": [
  {"mark": {"type": "line", "color": "black", "strokeWidth": 1},
   "encoding": {
    "x": {"field": "t", "type": "quantitative", "scale": {"domain": [5.117, 12.871], "nice": false, "zero": false}, "axis": {"orient": "bottom", "values": [5.5,6,6.5,7,7.5,8,8.5,9,9.5,10,10.5,11,11.5,12,12.5], "labels": false, "title": null, "tickSize": {"condition": {"test": "datum.value % 2 == 0", "value": -5}, "value": -3}}},
    "y": {"field": "v", "type": "quantitative", "scale": {"type": "log", "domain": [0.1, 10000], "nice": false}, "axis": {"orient": "left", "values": [0.1,0.2,0.3,0.4,0.5,0.6,0.7,0.8,0.9,1,2,3,4,5,6,7,8,9,10,20,30,40,50,60,70,80,90,100,200,300,400,500,600,700,800,900,1000,2000,3000,4000,5000,6000,7000,8000,9000,10000], "format": "d", "labelExpr": "indexof([0.1,1,10,100,1000,10000,100000], datum.value) >= 0 ? datum.label : ''", "title": null, "tickSize": {"condition": {"test": "indexof([0.1,1,10,100,1000,10000,100000], datum.value) >= 0", "value": -10}, "value": -5}}}
   }},
  {"mark": {"type": "line", "opacity": 0},
   "encoding": {
    "x": {"field": "t", "type": "quantitative", "axis": {"orient": "top", "values": [5.5,6,6.5,7,7.5,8,8.5,9,9.5,10,10.5,11,11.5,12,12.5], "labels": false, "title": null, "tickSize": {"condition": {"test": "datum.value % 2 == 0", "value": -5}, "value": -3}}},
    "y": {"field": "v", "type": "quantitative", "axis": {"orient": "right", "values": [0.1,0.2,0.3,0.4,0.5,0.6,0.7,0.8,0.9,1,2,3,4,5,6,7,8,9,10,20,30,40,50,60,70,80,90,100,200,300,400,500,600,700,800,900,1000,2000,3000,4000,5000,6000,7000,8000,9000,10000], "labels": false, "title": "s3", "tickSize": {"condition": {"test": "indexof([0.1,1,10,100,1000,10000,100000], datum.value) >= 0", "value": -10}, "value": -5}}}
   }}
 ],
 "resolve": {"axis": {"x": "independent", "y": "independent"}}
},
{"width": 612, "height": 57.5, "data": {"name": "d"}, "transform": [{"filter": "datum.c == 'h1'"}],
 "layer": [
  {"mark": {"type": "line", "color": "black", "strokeWidth": 1},
   "encoding": {
    "x": {"field": "t", "type": "quantitative", "scale": {"domain": [5.117, 12.871], "nice": false, "zero": false}, "axis": {"orient": "bottom", "values": [5.5,6,6.5,7,7.5,8,8.5,9,9.5,10,10.5,11,11.5,12,12.5], "labels": false, "title": null, "tickSize": {"condition": {"test": "datum.value % 2 == 0", "value": -5}, "value": -3}}},
    "y": {"field": "v", "type": "quantitative", "scale": {"type": "log", "domain": [0.1, 10000], "nice": false}, "axis": {"orient": "left", "values": [0.1,0.2,0.3,0.4,0.5,0.6,0.7,0.8,0.9,1,2,3,4,5,6,7,8,9,10,20,30,40,50,60,70,80,90,100,200,300,400,500,600,700,800,900,1000,2000,3000,4000,5000,6000,7000,8000,9000,10000], "format": "d", "labelExpr": "indexof([0.1,1,10,100,1000,10000,100000], datum.value) >= 0 ? datum.label : ''", "title": null, "tickSize": {"condition": {"test": "indexof([0.1,1,10,100,1000,10000,100000], datum.value) >= 0", "value": -10}, "value": -5}}}
   }},
  {"mark": {"type": "line", "opacity": 0},
   "encoding": {
    "x": {"field": "t", "type": "quantitative", "axis": {"orient": "top", "values": [5.5,6,6.5,7,7.5,8,8.5,9,9.5,10,10.5,11,11.5,12,12.5], "labels": false, "title": null, "tickSize": {"condition": {"test": "datum.value % 2 == 0", "value": -5}, "value": -3}}},
    "y": {"field": "v", "type": "quantitative", "axis": {"orient": "right", "values": [0.1,0.2,0.3,0.4,0.5,0.6,0.7,0.8,0.9,1,2,3,4,5,6,7,8,9,10,20,30,40,50,60,70,80,90,100,200,300,400,500,600,700,800,900,1000,2000,3000,4000,5000,6000,7000,8000,9000,10000], "labels": false, "title": "h1", "tickSize": {"condition": {"test": "indexof([0.1,1,10,100,1000,10000,100000], datum.value) >= 0", "value": -10}, "value": -5}}}
   }}
 ],
 "resolve": {"axis": {"x": "independent", "y": "independent"}}
},
{"width": 612, "height": 57.5, "data": {"name": "d"}, "transform": [{"filter": "datum.c == 'h2'"}],
 "layer": [
  {"mark": {"type": "line", "color": "black", "strokeWidth": 1},
   "encoding": {
    "x": {"field": "t", "type": "quantitative", "scale": {"domain": [5.117, 12.871], "nice": false, "zero": false}, "axis": {"orient": "bottom", "values": [5.5,6,6.5,7,7.5,8,8.5,9,9.5,10,10.5,11,11.5,12,12.5], "labels": false, "title": null, "tickSize": {"condition": {"test": "datum.value % 2 == 0", "value": -5}, "value": -3}}},
    "y": {"field": "v", "type": "quantitative", "scale": {"type": "log", "domain": [0.1, 100000], "nice": false}, "axis": {"orient": "left", "values": [0.1,0.2,0.3,0.4,0.5,0.6,0.7,0.8,0.9,1,2,3,4,5,6,7,8,9,10,20,30,40,50,60,70,80,90,100,200,300,400,500,600,700,800,900,1000,2000,3000,4000,5000,6000,7000,8000,9000,10000,20000,30000,40000,50000,60000,70000,80000,90000,100000], "format": "d", "labelExpr": "indexof([0.1,1,10,100,1000,10000,100000], datum.value) >= 0 ? datum.label : ''", "title": null, "tickSize": {"condition": {"test": "indexof([0.1,1,10,100,1000,10000,100000], datum.value) >= 0", "value": -10}, "value": -5}}}
   }},
  {"mark": {"type": "line", "opacity": 0},
   "encoding": {
    "x": {"field": "t", "type": "quantitative", "axis": {"orient": "top", "values": [5.5,6,6.5,7,7.5,8,8.5,9,9.5,10,10.5,11,11.5,12,12.5], "labels": false, "title": null, "tickSize": {"condition": {"test": "datum.value % 2 == 0", "value": -5}, "value": -3}}},
    "y": {"field": "v", "type": "quantitative", "axis": {"orient": "right", "values": [0.1,0.2,0.3,0.4,0.5,0.6,0.7,0.8,0.9,1,2,3,4,5,6,7,8,9,10,20,30,40,50,60,70,80,90,100,200,300,400,500,600,700,800,900,1000,2000,3000,4000,5000,6000,7000,8000,9000,10000,20000,30000,40000,50000,60000,70000,80000,90000,100000], "labels": false, "title": "h2", "tickSize": {"condition": {"test": "indexof([0.1,1,10,100,1000,10000,100000], datum.value) >= 0", "value": -10}, "value": -5}}}
   }}
 ],
 "resolve": {"axis": {"x": "independent", "y": "independent"}}
},
{"width": 612, "height": 57.5, "data": {"name": "d"}, "transform": [{"filter": "datum.c == 'h3'"}],
 "layer": [
  {"mark": {"type": "line", "color": "black", "strokeWidth": 1},
   "encoding": {
    "x": {"field": "t", "type": "quantitative", "scale": {"domain": [5.117, 12.871], "nice": false, "zero": false}, "axis": {"orient": "bottom", "values": [5.5,6,6.5,7,7.5,8,8.5,9,9.5,10,10.5,11,11.5,12,12.5], "labels": false, "title": null, "tickSize": {"condition": {"test": "datum.value % 2 == 0", "value": -5}, "value": -3}}},
    "y": {"field": "v", "type": "quantitative", "scale": {"type": "log", "domain": [0.1, 100000], "nice": false}, "axis": {"orient": "left", "values": [0.1,0.2,0.3,0.4,0.5,0.6,0.7,0.8,0.9,1,2,3,4,5,6,7,8,9,10,20,30,40,50,60,70,80,90,100,200,300,400,500,600,700,800,900,1000,2000,3000,4000,5000,6000,7000,8000,9000,10000,20000,30000,40000,50000,60000,70000,80000,90000,100000], "format": "d", "labelExpr": "indexof([0.1,1,10,100,1000,10000,100000], datum.value) >= 0 ? datum.label : ''", "title": null, "tickSize": {"condition": {"test": "indexof([0.1,1,10,100,1000,10000,100000], datum.value) >= 0", "value": -10}, "value": -5}}}
   }},
  {"mark": {"type": "line", "opacity": 0},
   "encoding": {
    "x": {"field": "t", "type": "quantitative", "axis": {"orient": "top", "values": [5.5,6,6.5,7,7.5,8,8.5,9,9.5,10,10.5,11,11.5,12,12.5], "labels": false, "title": null, "tickSize": {"condition": {"test": "datum.value % 2 == 0", "value": -5}, "value": -3}}},
    "y": {"field": "v", "type": "quantitative", "axis": {"orient": "right", "values": [0.1,0.2,0.3,0.4,0.5,0.6,0.7,0.8,0.9,1,2,3,4,5,6,7,8,9,10,20,30,40,50,60,70,80,90,100,200,300,400,500,600,700,800,900,1000,2000,3000,4000,5000,6000,7000,8000,9000,10000,20000,30000,40000,50000,60000,70000,80000,90000,100000], "labels": false, "title": "h3", "tickSize": {"condition": {"test": "indexof([0.1,1,10,100,1000,10000,100000], datum.value) >= 0", "value": -10}, "value": -5}}}
   }}
 ],
 "resolve": {"axis": {"x": "independent", "y": "independent"}}
},
{"width": 612, "height": 57.5, "data": {"name": "d"}, "transform": [{"filter": "datum.c == 'h4'"}],
 "layer": [
  {"mark": {"type": "line", "color": "black", "strokeWidth": 1},
   "encoding": {
    "x": {"field": "t", "type": "quantitative", "scale": {"domain": [5.117, 12.871], "nice": false, "zero": false}, "axis": {"orient": "bottom", "values": [5.5,6,6.5,7,7.5,8,8.5,9,9.5,10,10.5,11,11.5,12,12.5], "labels": false, "title": null, "tickSize": {"condition": {"test": "datum.value % 2 == 0", "value": -5}, "value": -3}}},
    "y": {"field": "v", "type": "quantitative", "scale": {"type": "log", "domain": [0.1, 100000], "nice": false}, "axis": {"orient": "left", "values": [0.1,0.2,0.3,0.4,0.5,0.6,0.7,0.8,0.9,1,2,3,4,5,6,7,8,9,10,20,30,40,50,60,70,80,90,100,200,300,400,500,600,700,800,900,1000,2000,3000,4000,5000,6000,7000,8000,9000,10000,20000,30000,40000,50000,60000,70000,80000,90000,100000], "format": "d", "labelExpr": "indexof([0.1,1,10,100,1000,10000,100000], datum.value) >= 0 ? datum.label : ''", "title": null, "tickSize": {"condition": {"test": "indexof([0.1,1,10,100,1000,10000,100000], datum.value) >= 0", "value": -10}, "value": -5}}}
   }},
  {"mark": {"type": "line", "opacity": 0},
   "encoding": {
    "x": {"field": "t", "type": "quantitative", "axis": {"orient": "top", "values": [5.5,6,6.5,7,7.5,8,8.5,9,9.5,10,10.5,11,11.5,12,12.5], "labels": false, "title": null, "tickSize": {"condition": {"test": "datum.value % 2 == 0", "value": -5}, "value": -3}}},
    "y": {"field": "v", "type": "quantitative", "axis": {"orient": "right", "values": [0.1,0.2,0.3,0.4,0.5,0.6,0.7,0.8,0.9,1,2,3,4,5,6,7,8,9,10,20,30,40,50,60,70,80,90,100,200,300,400,500,600,700,800,900,1000,2000,3000,4000,5000,6000,7000,8000,9000,10000,20000,30000,40000,50000,60000,70000,80000,90000,100000], "labels": false, "title": "h4", "tickSize": {"condition": {"test": "indexof([0.1,1,10,100,1000,10000,100000], datum.value) >= 0", "value": -10}, "value": -5}}}
   }}
 ],
 "resolve": {"axis": {"x": "independent", "y": "independent"}}
},
{"width": 612, "height": 57.5, "data": {"name": "d"}, "transform": [{"filter": "datum.c == 'h5'"}],
 "layer": [
  {"mark": {"type": "line", "color": "black", "strokeWidth": 1},
   "encoding": {
    "x": {"field": "t", "type": "quantitative", "scale": {"domain": [5.117, 12.871], "nice": false, "zero": false}, "axis": {"orient": "bottom", "values": [5.5,6,6.5,7,7.5,8,8.5,9,9.5,10,10.5,11,11.5,12,12.5], "labels": true, "labelExpr": "datum.value % 2 == 0 ? (datum.value < 10 ? '0' : '') + datum.value + ':00' : ''", "labelFontSize": 10, "labelPadding": 6, "title": "time UT", "titleFontSize": 10, "titlePadding": 0, "tickSize": {"condition": {"test": "datum.value % 2 == 0", "value": -5}, "value": -3}}},
    "y": {"field": "v", "type": "quantitative", "scale": {"type": "log", "domain": [0.1, 100000], "nice": false}, "axis": {"orient": "left", "values": [0.1,0.2,0.3,0.4,0.5,0.6,0.7,0.8,0.9,1,2,3,4,5,6,7,8,9,10,20,30,40,50,60,70,80,90,100,200,300,400,500,600,700,800,900,1000,2000,3000,4000,5000,6000,7000,8000,9000,10000,20000,30000,40000,50000,60000,70000,80000,90000,100000], "format": "d", "labelExpr": "indexof([0.1,1,10,100,1000,10000,100000], datum.value) >= 0 ? datum.label : ''", "title": null, "tickSize": {"condition": {"test": "indexof([0.1,1,10,100,1000,10000,100000], datum.value) >= 0", "value": -10}, "value": -5}}}
   }},
  {"mark": {"type": "line", "opacity": 0},
   "encoding": {
    "x": {"field": "t", "type": "quantitative", "axis": {"orient": "top", "values": [5.5,6,6.5,7,7.5,8,8.5,9,9.5,10,10.5,11,11.5,12,12.5], "labels": false, "title": null, "tickSize": {"condition": {"test": "datum.value % 2 == 0", "value": -5}, "value": -3}}},
    "y": {"field": "v", "type": "quantitative", "axis": {"orient": "right", "values": [0.1,0.2,0.3,0.4,0.5,0.6,0.7,0.8,0.9,1,2,3,4,5,6,7,8,9,10,20,30,40,50,60,70,80,90,100,200,300,400,500,600,700,800,900,1000,2000,3000,4000,5000,6000,7000,8000,9000,10000,20000,30000,40000,50000,60000,70000,80000,90000,100000], "labels": false, "title": "h5", "tickSize": {"condition": {"test": "indexof([0.1,1,10,100,1000,10000,100000], datum.value) >= 0", "value": -10}, "value": -5}}}
   }}
 ],
 "resolve": {"axis": {"x": "independent", "y": "independent"}}
}
],
"config": {
 "view": {"stroke": "black", "strokeWidth": 1},
 "axis": {"domain": false, "grid": false, "tickColor": "black", "tickWidth": 1, "labelColor": "black", "titleColor": "black", "labelFont": "DejaVu Sans Mono", "titleFont": "DejaVu Sans Mono", "titleFontWeight": "normal", "labelFontSize": 12, "labelPadding": 11, "labelOverlap": false, "labelFlush": false, "labelBound": false},
 "axisLeft": {"labelFlush": true, "labelFlushOffset": 0},
 "axisRight": {"titleAngle": 0, "titleAlign": "left", "titleBaseline": "middle", "titleFontSize": 11, "titlePadding": 10}
}
}
